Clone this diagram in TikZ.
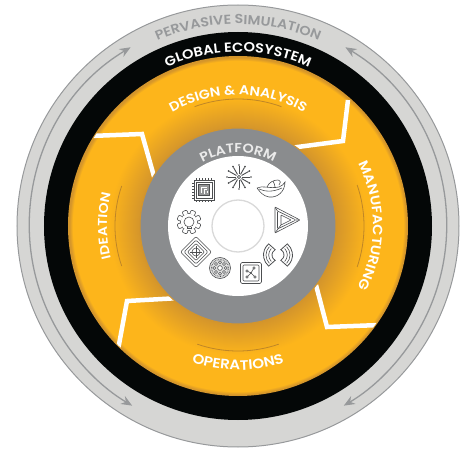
\documentclass[tikz,border=0pt]{standalone}
\usepackage{fontspec}
\setmainfont{Poppins}
\newfontfamily\labelfont{Poppins SemiBold}[FakeStretch=1.1]
\usetikzlibrary{arrows.meta,decorations.text}

\definecolor{ringgray}{HTML}{D6D6D4}
\definecolor{ringedge}{HTML}{97999B}
\definecolor{ecoblack}{HTML}{040707}
\definecolor{stageyellow}{HTML}{FDB51B}
\definecolor{stagedark}{HTML}{D4952B}
\definecolor{platgray}{HTML}{8A8C8E}
\definecolor{icongray}{HTML}{4C4E50}

\pgfdeclareradialshading{stagehalo}{\pgfpointorigin}{
  color(0bp)=(stagedark); color(14.4bp)=(stagedark); color(19bp)=(stageyellow);
  color(24.3bp)=(stageyellow); color(24.8bp)=(stagedark); color(50bp)=(stagedark)}

\tikzset{
  arclabel/.style n args={3}{decorate,decoration={text along path,text align=center,
      text color=#1,text={|\labelfont\fontsize{#2}{#2}\selectfont|#3}}},
  divider/.style={draw=white,line width=4.5pt,miter limit=8},
  hint/.style={draw=stagedark!90!black,line width=.8pt},
  simarrow/.style={draw=ringedge,line width=1.3pt,{Stealth[length=11pt,width=9pt]}-{Stealth[length=11pt,width=9pt]}},
  icon/.style={draw=icongray,line width=.6pt}
}

\begin{document}
\begin{tikzpicture}[x=1pt,y=1pt]
  \useasboundingbox (-238,-224) rectangle (231,226);

  % Rings
  \draw[fill=ringgray,draw=ringedge,line width=1pt] (0,0) circle (221);
  \fill[ecoblack] (0,0) circle (194);
  \shade[shading=stagehalo] (0,0) circle (170);

  % Dividers
  \begin{scope}
    \clip (0,0) circle (169);
    \draw[divider] (110,126) -- (105,85) -- (52,78);
    \draw[divider] (-148,90) -- (-96,92) -- (-83,46);
    \draw[divider] (-120,-124) -- (-111,-75) -- (-58,-72);
    \draw[divider] (78,-59) -- (89,-101) -- (142,-99);
  \end{scope}

  % Platform
  \draw[fill=platgray,draw=stagedark,line width=1pt] (0,0) circle (98);
  \fill[white] (0,0) circle (70);
  \draw[draw=black!15,line width=1.3pt] (0,0) circle (26);

  % Arrows
  \draw[simarrow] (121:208.5) arc (121:239.5:208.5);
  \draw[simarrow] (59:208.5) arc (59:-59.5:208.5);

  % Hints
  \draw[hint] (70:127) arc (70:110:127);
  \draw[hint] (161:123) arc (161:199:123);
  \draw[hint] (-19:126) arc (-19:19:126);
  \draw[hint] (251:125) arc (251:289:125);

  % Labels
  \path[arclabel={ringedge}{13}{PERVASIVE SIMULATION}] (180:202) arc (180:0:202);
  \path[arclabel={white}{13.3}{GLOBAL ECOSYSTEM}] (180:174) arc (180:0:174);
  \path[arclabel={white}{13}{DESIGN {\&} ANALYSIS}] (180:131) arc (180:0:131);
  \path[arclabel={white}{12.8}{IDEATION}] (270:131) arc (270:90:131);
  \path[arclabel={white}{13.4}{MANUFACTURING}] (90:135) arc (90:-90:135);
  \path[arclabel={white}{13.7}{OPERATIONS}] (180:144) arc (180:360:144);
  \path[arclabel={black!8}{13}{PLATFORM}] (180:73) arc (180:0:73);

  % Chip
  \begin{scope}[shift={(-34,36)}]
    \draw[icon] (-10,-10) rectangle (10,10);
    \draw[icon] (-8,-8) rectangle (8,8);
    \draw[icon,fill=icongray!60] (-5.5,-5.5) rectangle (5.5,5.5);
    \draw[white,line width=.6pt] (-3,-3) -- (-3,3) -- (3,3) (0,-3.5) -- (0,1) -- (3,1) (3,-3) -- (3,-1);
    \foreach \t in {-8,-5,...,8} {
      \draw[icon] (\t,10) -- (\t,11.5) (\t,-10) -- (\t,-11.5) (10,\t) -- (11.5,\t) (-10,\t) -- (-11.5,\t);
    }
  \end{scope}

  % Star
  \begin{scope}[shift={(1,49)}]
    \foreach \a in {0,30,...,330} {
      \draw[icon,line width=.9pt] (\a:3) -- (\a:11);
      \fill[icongray] (\a:12) circle (.9);
    }
    \draw[icon] (0,0) circle (1.6);
  \end{scope}

  % Lamp
  \begin{scope}[shift={(33,37)}]
    \draw[icon] (-14,1) .. controls (-8,4) and (-2,0) .. (8,2) .. controls (11,3) and (13,5) .. (14,7)
      .. controls (14,-3) and (6,-9) .. (-2,-8) .. controls (-8,-7) and (-11,-3) .. (-14,1);
    \draw[icon] (-12,0) .. controls (-7,-2) and (0,-4) .. (11,1);
    \draw[icon] (-4,2) .. controls (-2,7) and (3,9) .. (7,9) .. controls (10,8) and (10,6) .. (8,4);
    \draw[icon] (2,8) .. controls (3,6) and (4,4) .. (4,2);
  \end{scope}

  % Triangle
  \begin{scope}[shift={(49,6)}]
    \draw[icon,rounded corners=1pt] (-12,13) -- (13,0) -- (-12,-13) -- cycle;
    \draw[icon,rounded corners=1pt] (-9.5,9) -- (9,0) -- (-9.5,-9) -- cycle;
    \draw[icon,rounded corners=.5pt] (-6,5) -- (4,0) -- (-6,-5) -- cycle;
    \draw[icon] (-12,13) -- (-9.5,9) (13,0) -- (9,0) (-12,-13) -- (-6,-5);
  \end{scope}

  % Waves
  \begin{scope}[shift={(40,-29)}]
    \foreach \a in {0,180} {
      \draw[icon,line width=.8pt] (\a-50:14.5) arc (\a-50:\a+50:14.5) -- (\a+62:6) arc (\a+62:\a-62:6) -- cycle;
      \draw[icon] (\a-44:12) arc (\a-44:\a+44:12);
      \draw[icon] (\a-44:9.3) arc (\a-44:\a+44:9.3);
    }
    \fill[white] (-1.5,-12) rectangle (1.5,12);
  \end{scope}

  % Network
  \begin{scope}[shift={(13,-47)}]
    \draw[icon,line width=.7pt,rounded corners=1.5pt] (-10.5,-10.5) rectangle (10.5,10.5);
    \draw[icon,rounded corners=1pt] (-8,-8) rectangle (8,8);
    \draw[icon] (-4,-4) -- (0,0) -- (4,-4) (0,0) -- (3,5) (0,0) -- (-4,2);
    \fill[icongray] (0,0) circle (1);
    \foreach \p in {(-4,-4),(4,-4),(3,5),(-4,2)} {
      \draw[icon,fill=white] \p circle (1.2);
    }
  \end{scope}

  % Rosette
  \begin{scope}[shift={(-18,-42)}]
    \draw[icon,fill=black!12] (0,0) circle (10.5);
    \draw[icon,densely dotted,line width=.9pt] (0,0) circle (8.5);
    \foreach \a in {0,45,...,315} {
      \draw[icon,fill=white] (\a:5.7) circle (1.5);
    }
    \draw[icon,fill=white] (0,0) circle (2.4);
  \end{scope}

  % Diamond
  \begin{scope}[shift={(-42,-26)},rotate=45]
    \draw[icon,rounded corners=2pt] (-11,-11) rectangle (11,11);
    \draw[icon,rounded corners=1.5pt] (-8.5,-8.5) rectangle (8.5,8.5);
    \draw[icon,rounded corners=1pt] (-6,-6) rectangle (6,6);
    \draw[icon] (0,0) circle (4);
    \draw[icon,line width=.8pt] (-4,-4) -- (4,4) (-4,4) -- (4,-4);
  \end{scope}

  % Gear
  \begin{scope}[shift={(-49,4)}]
    \draw[icon] (0,0) circle (8.6);
    \foreach \a in {22.5,67.5,...,337.5} {
      \draw[icon,fill=white,rotate=\a,rounded corners=1pt] (7.5,-2.5) rectangle (12,2.5);
    }
    \fill[white] (0,0) circle (8.2);
    \draw[icon] (0,0) circle (5);
    \draw[icon] (-2,-5) -- (-2,-6.5) -- (2,-6.5) -- (2,-5);
  \end{scope}
\end{tikzpicture}
\end{document}
